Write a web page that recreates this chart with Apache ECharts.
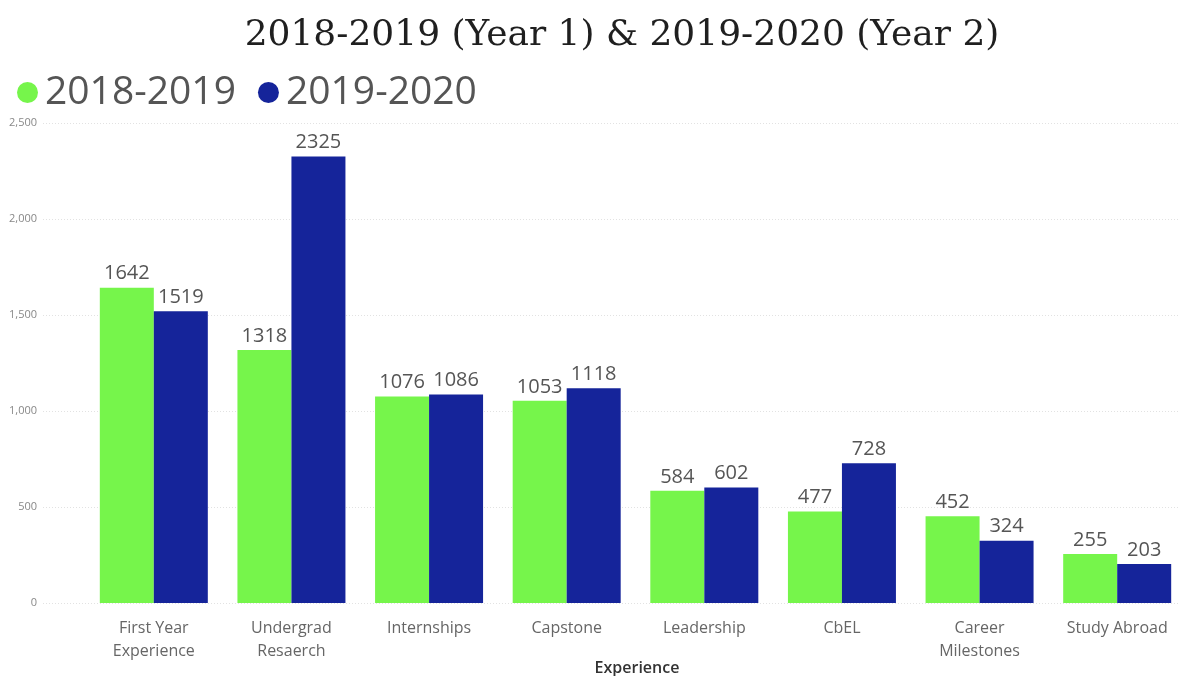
<!DOCTYPE html>
<html>
<head>
<meta charset="utf-8">
<style>
  html, body { margin: 0; padding: 0; background: #fff; }
  #chart { width: 1180px; height: 676px; }
</style>
<script src="https://cdn.jsdelivr.net/npm/echarts@6/dist/echarts.min.js"></script>
</head>
<body>
<div id="chart"></div>
<script>
// Experience categories and participation counts per academic year
const categories = [
  'First Year\nExperience',
  'Undergrad\nResaerch',
  'Internships',
  'Capstone',
  'Leadership',
  'CbEL',
  'Career\nMilestones',
  'Study Abroad'
];
const year1Values = [1642, 1318, 1076, 1053, 584, 477, 452, 255];
const year2Values = [1519, 2325, 1086, 1118, 602, 728, 324, 203];
const seriesNames = ['2018-2019', '2019-2020'];
const yTicks = { min: 0, max: 2500, interval: 500 };

const GREEN = '#76F54B';
const BLUE = '#15249A';
const SANS = '"Open Sans", "Noto Sans", sans-serif';

const chart = echarts.init(document.getElementById('chart'));

const barLabel = {
  show: true,
  position: 'top',
  distance: 4,
  color: '#555',
  fontSize: 20,
  fontFamily: SANS
};

chart.setOption({
  animation: false,
  title: [
    {
      text: '2018-2019 (Year 1) & 2019-2020 (Year 2)',
      left: 617,
      textAlign: 'center',
      top: 13,
      textStyle: {
        fontFamily: '"DejaVu Serif", "Liberation Serif", serif',
        fontWeight: 'normal',
        fontSize: 36,
        color: '#1f1f1f'
      }
    },
    {
      // x axis title
      text: 'Experience',
      left: 637,
      textAlign: 'center',
      top: 660,
      padding: 0,
      textStyle: {
        fontFamily: SANS,
        fontWeight: 600,
        fontSize: 16,
        color: '#333'
      }
    }
  ],
  legend: {
    left: 12,
    top: 68,
    itemWidth: 21,
    itemHeight: 21,
    itemGap: 22,
    icon: 'circle',
    data: seriesNames,
    textStyle: {
      fontFamily: SANS,
      fontSize: 39,
      color: '#555',
      padding: [0, 0, 0, 2]
    }
  },
  grid: [
    // value axis grid: labels and dotted guide lines across the full width
    { left: 43, right: 0, top: 123, bottom: 73, outerBoundsMode: 'none' },
    // bar grid
    { left: 85, right: -6, top: 123, bottom: 73, outerBoundsMode: 'none' }
  ],
  xAxis: [
    { gridIndex: 0, type: 'value', show: false, min: 0, max: 1 },
    {
      gridIndex: 1,
      type: 'category',
      data: categories,
      axisLine: { show: false },
      axisTick: { show: false },
      axisLabel: {
        interval: 0,
        margin: 14,
        color: '#666',
        fontSize: 16,
        lineHeight: 23,
        fontFamily: SANS
      }
    }
  ],
  yAxis: [
    {
      gridIndex: 0,
      type: 'value',
      min: yTicks.min,
      max: yTicks.max,
      interval: yTicks.interval,
      axisLine: { show: false },
      axisTick: { show: false },
      axisLabel: {
        margin: 6,
        color: '#888',
        fontSize: 11,
        fontFamily: SANS,
        formatter: v => v.toLocaleString('en-US')
      },
      splitLine: {
        lineStyle: { color: '#e2e2e2', type: [1, 2], width: 1 }
      }
    },
    {
      gridIndex: 1,
      type: 'value',
      min: yTicks.min,
      max: yTicks.max,
      interval: yTicks.interval,
      show: false,
      splitLine: { show: false }
    }
  ],
  series: [
    {
      name: seriesNames[0],
      type: 'bar',
      xAxisIndex: 1,
      yAxisIndex: 1,
      data: year1Values,
      barWidth: 54,
      barGap: '0%',
      itemStyle: { color: GREEN },
      label: barLabel
    },
    {
      name: seriesNames[1],
      type: 'bar',
      xAxisIndex: 1,
      yAxisIndex: 1,
      data: year2Values,
      barWidth: 54,
      barGap: '0%',
      itemStyle: { color: BLUE },
      label: barLabel
    }
  ]
});
</script>
</body>
</html>
